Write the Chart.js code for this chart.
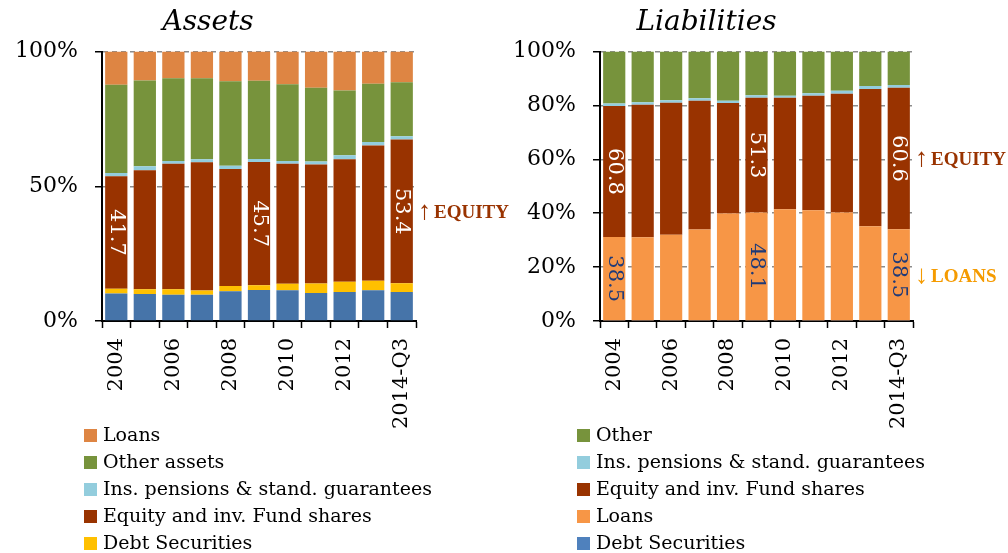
<!DOCTYPE html>
<html>
<head>
<meta charset="utf-8">
<script src="https://cdn.jsdelivr.net/npm/chart.js@4.4.1/dist/chart.umd.min.js"></script>
<style>
  html, body { margin: 0; padding: 0; background: #fff; }
  #wrap { position: relative; width: 1008px; height: 553px; overflow: hidden; font-family: "DejaVu Serif", serif; }
  .panel { position: absolute; top: 0; height: 553px; }
  .legend { position: absolute; font-size: 19px; color: #000; }
  .legend div { height: 27px; line-height: 27px; white-space: nowrap; }
  .legend span { display: inline-block; width: 13px; height: 13px; margin-right: 6px; vertical-align: -1px; }
</style>
</head>
<body>
<div id="wrap">
  <div class="panel" style="left:0;width:516px"><canvas id="assetsChart"></canvas></div>
  <div class="panel" style="left:500px;width:508px"><canvas id="liabChart"></canvas></div>
  <div class="legend" id="assetsLegend" style="left:84px;top:421px"></div>
  <div class="legend" id="liabLegend" style="left:577px;top:421px"></div>
</div>
<script>
const years = ['2004', '2005', '2006', '2007', '2008', '2009', '2010', '2011', '2012', '2013', '2014-Q3'];

// assets, % of total (bottom to top)
const assetsCurrency = [10.2, 10.0, 9.7, 9.7, 11.0, 11.5, 11.4, 10.4, 10.8, 11.4, 10.8];
const assetsDebt     = [1.8, 1.8, 2.1, 1.6, 2.0, 1.8, 2.4, 3.5, 3.8, 3.5, 3.2];
const assetsEquity   = [41.7, 44.2, 46.6, 47.6, 43.4, 45.7, 44.6, 44.2, 45.4, 50.2, 53.4];
const assetsIns      = [1.2, 1.4, 1.0, 1.1, 1.2, 1.1, 1.0, 1.1, 1.5, 1.3, 1.2];
const assetsOther    = [32.8, 31.9, 30.7, 30.1, 31.4, 29.1, 28.5, 27.4, 24.1, 21.7, 20.0];
const assetsLoans    = [12.3, 10.7, 9.9, 9.9, 11.0, 10.8, 12.1, 13.4, 14.4, 11.9, 11.4];

// liabilities, % of total (bottom to top)
const liabDebt   = [0.2, 0.2, 0.2, 0.2, 0.2, 0.2, 0.2, 0.2, 0.2, 0.2, 0.2];
const liabLoans  = [31.0, 30.9, 31.8, 33.8, 39.7, 40.1, 41.3, 40.9, 40.1, 35.0, 33.9];
const liabEquity = [48.6, 49.2, 49.0, 47.8, 41.0, 42.6, 41.4, 42.5, 44.1, 50.9, 52.5];
const liabIns    = [0.9, 0.9, 0.9, 0.9, 0.9, 0.9, 0.7, 0.9, 1.1, 1.1, 1.0];
const liabOther  = [19.3, 18.8, 18.1, 17.3, 18.2, 16.2, 16.4, 15.5, 14.5, 12.8, 12.4];

// numbers written inside the bars
const assetsEquityNotes = ['41.7', '', '', '', '', '45.7', '', '', '', '', '53.4'];
const liabEquityNotes   = ['60.8', '', '', '', '', '51.3', '', '', '', '', '60.6'];
const liabLoansNotes    = ['38.5', '', '', '', '', '48.1', '', '', '', '', '38.5'];

const assetsYTicks = [0, 50, 100];
const liabYTicks = [0, 20, 40, 60, 80, 100];

const serif = '"DejaVu Serif", serif';

// draws rotated numbers inside bars and the arrow labels at the right side
const notesPlugin = {
    id: 'notes',
    afterDatasetsDraw(chart, args, opts) {
        const ctx = chart.ctx;
        (opts.inside || []).forEach(n => {
            const meta = chart.getDatasetMeta(n.ds);
            n.texts.forEach((t, i) => {
                if (!t) return;
                const p = meta.data[i].getCenterPoint();
                ctx.save();
                ctx.translate(p.x, p.y);
                ctx.rotate(Math.PI / 2);
                ctx.font = '21px ' + serif;
                ctx.fillStyle = n.color;
                ctx.textAlign = 'center';
                ctx.textBaseline = 'middle';
                ctx.fillText(t, 0, 0);
                ctx.restore();
            });
        });
        (opts.side || []).forEach(s => {
            const meta = chart.getDatasetMeta(s.ds);
            const p = meta.data[meta.data.length - 1].getCenterPoint();
            let x = chart.chartArea.right + 2;
            ctx.save();
            ctx.fillStyle = s.color;
            ctx.textAlign = 'left';
            ctx.textBaseline = 'middle';
            ctx.font = '26px "Liberation Serif", serif';
            ctx.fillText(s.arrow, x, p.y + 1);
            x += ctx.measureText(s.arrow).width + 3;
            ctx.font = 'bold 19px "Liberation Serif", serif';
            ctx.fillText(s.text, x, p.y + 2);
            ctx.restore();
        });
    }
};

function makeChart(canvasId, legendId, title, datasets, yTicks, stepSize, padLeft, yWidth, padRight, notes) {
    const chart = new Chart(document.getElementById(canvasId), {
        type: 'bar',
        data: {
            labels: years,
            datasets: datasets.map(d => ({
                label: d.label,
                data: d.data,
                backgroundColor: d.color,
                borderWidth: 0,
                barPercentage: 0.78,
                categoryPercentage: 1.0
            }))
        },
        plugins: [notesPlugin],
        options: {
            responsive: true,
            maintainAspectRatio: false,
            animation: false,
            layout: { padding: { left: padLeft, right: padRight, top: 0, bottom: 112 } },
            plugins: {
                legend: { display: false },
                tooltip: { enabled: false },
                title: {
                    display: true,
                    text: title,
                    color: '#000',
                    font: { family: serif, size: 28, style: 'italic', weight: 'normal' },
                    padding: { top: 6, bottom: 12 }
                },
                notes: notes
            },
            scales: {
                x: {
                    stacked: true,
                    grid: { display: true, drawOnChartArea: false, drawTicks: true, tickLength: 7, tickColor: '#000', tickWidth: 1.5 },
                    border: { display: true, color: '#000', width: 2 },
                    ticks: {
                        color: '#000',
                        autoSkip: false,
                        minRotation: 90,
                        maxRotation: 90,
                        padding: 10,
                        font: { family: serif, size: 21 },
                        callback: (v, i) => (i % 2 === 0 ? years[i] : '')
                    },
                    afterFit: s => { s.height = 120; }
                },
                y: {
                    stacked: true,
                    min: 0,
                    max: 100,
                    afterBuildTicks: s => { s.ticks = yTicks.map(v => ({ value: v })); },
                    grid: { color: '#8c8c8c', lineWidth: 1.5, drawTicks: true, tickLength: 7, tickColor: '#000', tickWidth: 1.5, tickBorderDash: [] },
                    border: { display: true, color: '#000', width: 2, dash: [5, 4] },
                    ticks: {
                        color: '#000',
                        stepSize: stepSize,
                        padding: 17,
                        font: { family: serif, size: 22 },
                        callback: v => v + '%'
                    },
                    afterFit: s => { s.width = yWidth; }
                }
            }
        }
    });

    // legend: top series first, one item per row
    const box = document.getElementById(legendId);
    datasets.slice().reverse().filter(d => d.legend !== false).forEach(d => {
        const row = document.createElement('div');
        const sw = document.createElement('span');
        sw.style.background = d.color;
        row.appendChild(sw);
        row.appendChild(document.createTextNode(d.label));
        box.appendChild(row);
    });
    return chart;
}

const eqColor = '#993300';

makeChart('assetsChart', 'assetsLegend', 'Assets', [
    { label: 'Currency and deposits', data: assetsCurrency, color: '#4674A9', legend: false },
    { label: 'Debt Securities', data: assetsDebt, color: '#FFC000' },
    { label: 'Equity and inv. Fund shares', data: assetsEquity, color: eqColor },
    { label: 'Ins. pensions & stand. guarantees', data: assetsIns, color: '#93CDDD' },
    { label: 'Other assets', data: assetsOther, color: '#77933C' },
    { label: 'Loans', data: assetsLoans, color: '#DE8543' }
], assetsYTicks, 50, 0, 102, 100, {
    inside: [{ ds: 2, texts: assetsEquityNotes, color: '#ffffff' }],
    side: [{ ds: 2, arrow: '\u2191', text: 'EQUITY', color: eqColor }]
});

makeChart('liabChart', 'liabLegend', 'Liabilities', [
    { label: 'Debt Securities', data: liabDebt, color: '#4F81BD' },
    { label: 'Loans', data: liabLoans, color: '#F79646' },
    { label: 'Equity and inv. Fund shares', data: liabEquity, color: eqColor },
    { label: 'Ins. pensions & stand. guarantees', data: liabIns, color: '#93CDDD' },
    { label: 'Other', data: liabOther, color: '#77933C' }
], liabYTicks, 20, 0, 100, 95, {
    inside: [
        { ds: 2, texts: liabEquityNotes, color: '#ffffff' },
        { ds: 1, texts: liabLoansNotes, color: '#1F3A78' }
    ],
    side: [
        { ds: 2, arrow: '\u2191', text: 'EQUITY', color: eqColor },
        { ds: 1, arrow: '\u2193', text: 'LOANS', color: '#F59B00' }
    ]
});
</script>
</body>
</html>
